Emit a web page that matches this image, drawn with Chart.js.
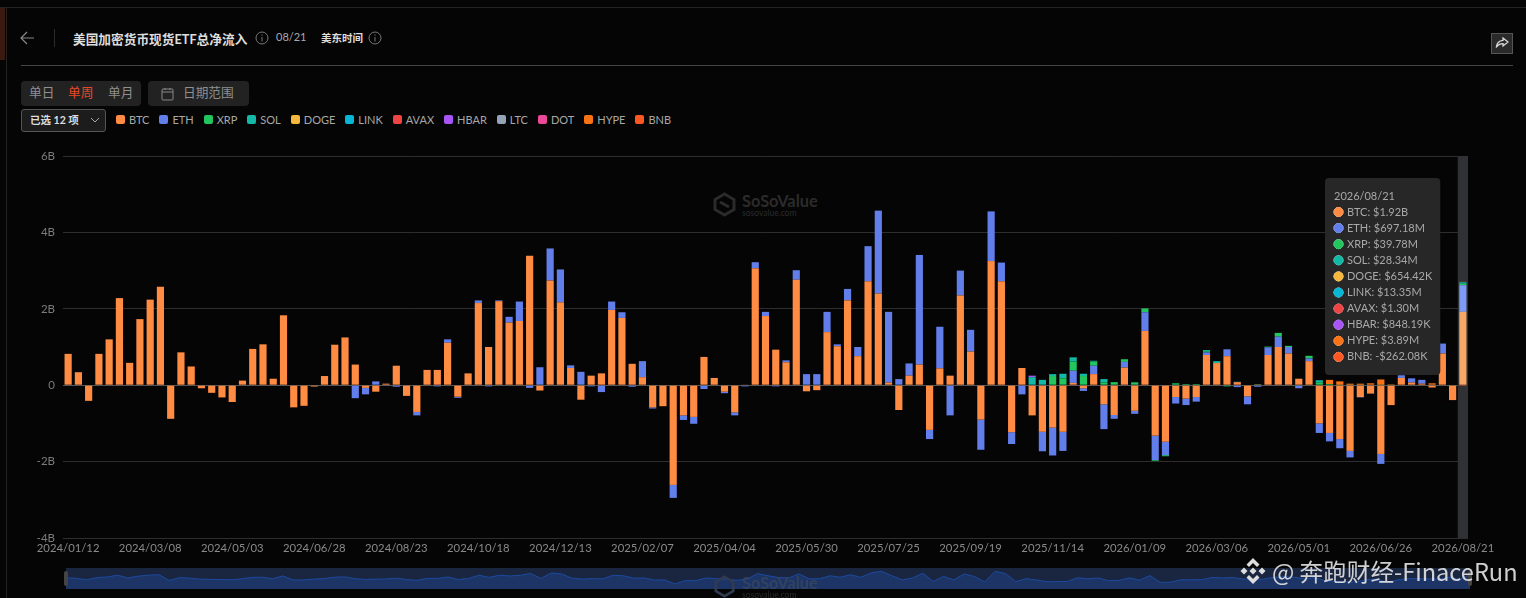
<!DOCTYPE html>
<html>
<head>
<meta charset="utf-8">
<script src="https://cdn.jsdelivr.net/npm/chart.js@4"></script>
<style>
html, body { margin: 0; padding: 0; background: #050505; }
body { position: relative; width: 1526px; height: 598px; overflow: hidden; color: #999; font-family: Lato, "Noto Sans CJK SC", sans-serif; }
.abs { position: absolute; white-space: nowrap; }
canvas { position: absolute; left: 0; top: 0; }
#legend { left: 116px; top: 111px; display: flex; align-items: center; height: 16px; font-size: 11px; color: #a8a8a8; }
#legend span.item { display: flex; align-items: center; margin-right: 10px; }
#legend i { display: block; width: 9px; height: 9px; border-radius: 2px; margin-right: 4px; }
.btn { background: #222; border-radius: 4px; height: 25px; line-height: 23px; font-size: 12.7px; color: #8f8f8f; }
.mark { color: #2b2b2b; font-weight: 700; }
</style>
</head>
<body>
<!-- frame -->
<div class="abs" style="left:0;top:7px;width:1526px;height:1px;background:#222"></div>
<div class="abs" style="left:6px;top:8px;width:1px;height:590px;background:#222"></div>
<div class="abs" style="left:0;top:8px;width:5px;height:52px;background:#3a1a10"></div>
<div class="abs" style="left:21px;top:65px;width:1492px;height:1px;background:#444"></div>
<div class="abs" style="left:54px;top:29px;width:1px;height:18px;background:#2c2c2c"></div>

<!-- header -->
<svg class="abs" style="left:20px;top:31px" width="15" height="14" viewBox="0 0 15 14" fill="none" stroke="#888" stroke-width="1.2"><path d="M14 7H1M7 1L1 7l6 6"/></svg>
<div class="abs" style="left:73px;top:29px;font-size:12.7px;font-weight:700;color:#ddd">美国加密货币现货ETF总净流入</div>
<svg class="abs" style="left:255px;top:31px" width="14" height="14" viewBox="0 0 14 14" fill="none" stroke="#777"><circle cx="7" cy="7" r="6"/><path d="M7 6v4.5M7 3.5v1.2"/></svg>
<div class="abs" style="left:276px;top:30px;font-size:11px;color:#aaa">08/21</div>
<div class="abs" style="left:321px;top:30px;font-size:10.5px;font-weight:700;color:#ddd">美东时间</div>
<svg class="abs" style="left:368px;top:31px" width="14" height="14" viewBox="0 0 14 14" fill="none" stroke="#777"><circle cx="7" cy="7" r="6"/><path d="M7 6v4.5M7 3.5v1.2"/></svg>
<div class="abs" style="left:1491px;top:33px;width:20px;height:19px;background:#2a2a2a;border:1px solid #555"></div>
<svg class="abs" style="left:1495px;top:36px" width="14" height="14" viewBox="0 0 14 14" fill="none" stroke="#ddd" stroke-width="1.2"><path d="M8 2l5 4-5 4V7.6C5 7.6 3 8.6 1.2 11.5 1.6 7.5 4 4.8 8 4.4z"/></svg>

<!-- period buttons -->
<div class="abs btn" style="left:21px;top:81px;width:120px">
  <span class="abs" style="left:8px">单日</span><span class="abs" style="left:47px;color:#e5492a">单周</span><span class="abs" style="left:87px">单月</span>
</div>
<div class="abs btn" style="left:148px;top:81px;width:101px">
  <svg class="abs" style="left:13px;top:6px" width="13" height="14" viewBox="0 0 13 14" fill="none" stroke="#888"><rect x="1" y="2" width="11" height="11" rx="1"/><path d="M1 5h11M4 1v2M9 1v2"/></svg>
  <span class="abs" style="left:35px">日期范围</span>
</div>
<div class="abs" style="left:21px;top:109px;width:83px;height:21px;background:#1c1c1c;border:1px solid #555;border-radius:3px;font-size:10.5px;font-weight:700;color:#ddd;line-height:21px">
  <span class="abs" style="left:8px">已选 12 项</span>
  <svg class="abs" style="left:68px;top:7px" width="10" height="7" viewBox="0 0 10 7" fill="none" stroke="#aaa"><path d="M1 1l4 4 4-4"/></svg>
</div>
<div id="legend" class="abs"></div>

<!-- watermark behind the bars -->
<svg class="abs" style="left:713px;top:192px" width="23" height="25" viewBox="0 0 23 25" fill="none" stroke="#2b2b2b" stroke-width="3"><path d="M11.5 2l9.5 5.5v10L11.5 23 2 17.500v-10zM7 10l9 5"/></svg>
<div class="abs mark" style="left:742px;top:191px;font-size:16.4px">SoSoValue</div>
<div class="abs mark" style="left:742px;top:208px;font-size:8.5px;font-weight:400">sosovalue.com</div>

<canvas id="main" width="1526" height="598"></canvas>

<!-- navigator -->
<div class="abs" style="left:66px;top:568px;width:1404px;height:21px;background:#1a2540"></div>
<canvas id="nav" width="1404" height="21" style="left:66px;top:568px"></canvas>
<div class="abs" style="left:64px;top:571px;width:4px;height:15px;background:#444;border-radius:2px"></div>
<div class="abs" style="left:1468px;top:571px;width:4px;height:15px;background:#444;border-radius:2px"></div>
<svg class="abs" style="left:714px;top:575px" width="21" height="23" viewBox="0 0 23 25" fill="none" stroke="#303a50" stroke-width="3"><path d="M11.5 2l9.500 5.500v10L11.500 23 2 17.500v-10z"/></svg>
<div class="abs" style="left:742px;top:573px;font-size:16.4px;font-weight:700;color:#33425f">SoSoValue</div>
<div class="abs" style="left:742px;top:590px;font-size:8.5px;color:#2b2b2b">sosovalue.com</div>

<!-- overlay credit -->
<svg class="abs" style="left:1239px;top:557px" width="28" height="28" viewBox="0 0 28 28" fill="#ddd">
  <path d="M14 1l6.500 6.500-2.500 2.500-4-4-4 4-2.500-2.500zM14 27l6.500-6.500-2.500-2.500-4 4-4-4-2.500 2.500zM5 10.500L8.500 14 5 17.500 1.500 14zM23 10.500l3.500 3.500-3.500 3.500-3.500-3.500zM14 10.500l3.500 3.500-3.500 3.500-3.500-3.500z"/>
</svg>
<div class="abs" style="left:1272px;top:555px;font-size:23.6px;color:rgba(235,235,235,.88);font-family:'Noto Sans CJK SC',sans-serif;line-height:32px">@ 奔跑财经-FinaceRun</div>

<script>
// weekly net flow per asset, in billions of USD
const tickLabels = ["2024/01/12","2024/03/08","2024/05/03","2024/06/28","2024/08/23","2024/10/18","2024/12/13","2025/02/07","2025/04/04","2025/05/30","2025/07/25","2025/09/19","2025/11/14","2026/01/09","2026/03/06","2026/05/01","2026/06/26","2026/08/21"];

const btc = [.82,.34,-.41,.82,1.2,2.28,.585,1.73,2.24,2.58, -.88,.86,.49,-.08,-.2,-.32,-.44,.12,.95,1.07, .17,1.83,-.58,-.54,-.035,.24,1.06,1.25,.54,-.07, -.17,.04,.51,-.28,-.7,.4,.4,1.11,-.3,.31, 2.15,1,2.2,1.64,1.68,3.39,-.14,2.74,2.17,.45, -.38,.25,.31,1.97,1.76,.56,.21,-.58,-.55,-2.61, -.79,-.83,.74,.19,-.17,-.71,.01,3.06,1.81,.93, .6,2.76,-.16,-.13,1.39,1.02,2.22,.76,2.72,2.4, .07,-.65,.25,.54,-1.17,.44,.25,2.35,.88,-.9, 3.25,2.72,-1.23,.45,-.79,-1.22,-1.11,-1.22,.06,-.08, .29,-.5,-.78,.46,-.67,1.42,-1.32,-1.48,-.31,-.35, -.31,.79,.58,.76,.08,-.29,.02,.79,1,.83, .17,.63,-1,-1.25,-1.41,-1.72,-.31,-.22,-1.8,-.52, .19,.07,.04,-.06,.83,-.39,1.92];
const eth = [0,0,0,0,0,0,0,0,0,0, 0,0,0,0,0,0,0,0,0,0, 0,0,0,0,0,0,0,0,-.34,-.17, .1,-.01,-.04,0,-.09,0,-.03,.09,-.03,0, .07,-.03,.02,.15,.51,-.07,.47,.84,.86,.07, .35,-.03,-.18,.22,.15,-.04,.42,-.03,0,-.34, -.12,-.18,-.1,0,-.04,-.08,-.03,.16,.11,-.03, .05,.25,.29,.29,.53,.05,.3,.24,.92,2.17, 1.85,.16,.32,2.87,-.24,1.09,-.79,.65,.57,-.79, 1.3,.49,-.31,-.24,0,-.51,-.73,-.5,.32,-.07, .22,-.65,-.1,.15,-.08,.49,-.64,-.35,-.17,-.17, -.12,.07,0,.18,-.05,-.21,-.04,.2,.27,.17, -.08,.07,-.25,-.22,-.24,-.17,-.01,0,-.26,0, .07,.11,.1,0,.26,0,.69718];
const xrp = [0,0,0,0,0,0,0,0,0,0, 0,0,0,0,0,0,0,0,0,0, 0,0,0,0,0,0,0,0,0,0, 0,0,0,0,0,0,0,0,0,0, 0,0,0,0,0,0,0,0,0,0, 0,0,0,0,0,0,0,0,0,0, 0,0,0,0,0,0,0,0,0,0, 0,0,0,0,0,0,0,0,0,0, 0,0,0,0,0,0,0,0,0,0, 0,0,0,0,0,0,.24,.18,.24,.24, .11,.07,.08,.07,.07,.1,-.02,-.03,.05,.03, .03,.03,0,-.03,0,0,.01,.02,.1,.03, 0,.07,.07,.03,.01,.01,.01,0,.01,.01, 0,0,0,0,0,0,.03978];
const sol = [0,0,0,0,0,0,0,0,0,0, 0,0,0,0,0,0,0,0,0,0, 0,0,0,0,0,0,0,0,0,0, 0,0,0,0,0,0,0,0,0,0, 0,0,0,0,0,0,0,0,0,0, 0,0,0,0,0,0,0,0,0,0, 0,0,0,0,0,0,0,0,0,0, 0,0,0,0,0,0,0,0,0,0, 0,0,0,0,0,0,0,0,0,0, 0,0,0,0,.21,.14,.05,.12,.11,.06, .02,.09,0,0,.01,0,0,0,0,0, 0,.03,.05,0,.01,0,0,0,0,0, 0,0,.06,0,0,0,0,0,0,0, 0,0,0,0,0,0,.02834];
const doge = [0,0,0,0,0,0,0,0,0,0, 0,0,0,0,0,0,0,0,0,0, 0,0,0,0,0,0,0,0,0,0, 0,0,0,0,0,0,0,0,0,0, 0,0,0,0,0,0,0,0,0,0, 0,0,0,0,0,0,0,0,0,0, 0,0,0,0,0,0,0,0,0,0, 0,0,0,0,0,0,0,0,0,0, 0,0,0,0,0,0,0,0,0,0, 0,0,0,0,0,0,0,0,0,0, 0,0,0,0,0,0,0,0,0,0, 0,0,0,0,0,0,0,0,0,0, 0,0,0,0,0,0,0,0,0,0, 0,0,0,0,0,0,.00065442];
const link = [0,0,0,0,0,0,0,0,0,0, 0,0,0,0,0,0,0,0,0,0, 0,0,0,0,0,0,0,0,0,0, 0,0,0,0,0,0,0,0,0,0, 0,0,0,0,0,0,0,0,0,0, 0,0,0,0,0,0,0,0,0,0, 0,0,0,0,0,0,0,0,0,0, 0,0,0,0,0,0,0,0,0,0, 0,0,0,0,0,0,0,0,0,0, 0,0,0,0,0,0,0,0,0,0, 0,0,0,0,0,0,0,0,0,0, 0,0,0,0,0,0,0,0,0,0, 0,0,0,0,0,0,0,0,0,0, 0,0,0,0,0,0,.01335];
const avax = [0,0,0,0,0,0,0,0,0,0, 0,0,0,0,0,0,0,0,0,0, 0,0,0,0,0,0,0,0,0,0, 0,0,0,0,0,0,0,0,0,0, 0,0,0,0,0,0,0,0,0,0, 0,0,0,0,0,0,0,0,0,0, 0,0,0,0,0,0,0,0,0,0, 0,0,0,0,0,0,0,0,0,0, 0,0,0,0,0,0,0,0,0,0, 0,0,0,0,0,0,0,0,0,0, 0,0,0,0,0,0,0,0,0,0, 0,0,0,0,0,0,0,0,0,0, 0,0,0,0,0,0,0,0,0,0, 0,0,0,0,0,0,.0013];
const hbar = [0,0,0,0,0,0,0,0,0,0, 0,0,0,0,0,0,0,0,0,0, 0,0,0,0,0,0,0,0,0,0, 0,0,0,0,0,0,0,0,0,0, 0,0,0,0,0,0,0,0,0,0, 0,0,0,0,0,0,0,0,0,0, 0,0,0,0,0,0,0,0,0,0, 0,0,0,0,0,0,0,0,0,0, 0,0,0,0,0,0,0,0,0,0, 0,0,0,0,.04,0,0,0,0,0, 0,0,0,0,0,0,0,0,0,0, 0,0,0,0,0,0,0,0,0,0, 0,0,0,0,0,0,0,0,0,0, 0,0,0,0,0,0,.00084819];
const ltc = [0,0,0,0,0,0,0,0,0,0, 0,0,0,0,0,0,0,0,0,0, 0,0,0,0,0,0,0,0,0,0, 0,0,0,0,0,0,0,0,0,0, 0,0,0,0,0,0,0,0,0,0, 0,0,0,0,0,0,0,0,0,0, 0,0,0,0,0,0,0,0,0,0, 0,0,0,0,0,0,0,0,0,0, 0,0,0,0,0,0,0,0,0,0, 0,0,0,0,0,0,0,0,0,0, 0,0,0,0,0,0,0,0,0,0, 0,0,0,0,0,0,0,0,0,0, 0,0,0,0,0,0,0,0,0,0, 0,0,0,0,0,0,0];
const dot = [0,0,0,0,0,0,0,0,0,0, 0,0,0,0,0,0,0,0,0,0, 0,0,0,0,0,0,0,0,0,0, 0,0,0,0,0,0,0,0,0,0, 0,0,0,0,0,0,0,0,0,0, 0,0,0,0,0,0,0,0,0,0, 0,0,0,0,0,0,0,0,0,0, 0,0,0,0,0,0,0,0,0,0, 0,0,0,0,0,0,0,0,0,0, 0,0,0,0,0,0,0,0,0,0, 0,0,0,0,0,0,0,0,0,0, 0,0,0,0,0,0,0,0,0,0, 0,0,0,0,0,0,0,0,0,0, 0,0,0,0,0,0,0];
const hype = [0,0,0,0,0,0,0,0,0,0, 0,0,0,0,0,0,0,0,0,0, 0,0,0,0,0,0,0,0,0,0, 0,0,0,0,0,0,0,0,0,0, 0,0,0,0,0,0,0,0,0,0, 0,0,0,0,0,0,0,0,0,0, 0,0,0,0,0,0,0,0,0,0, 0,0,0,0,0,0,0,0,0,0, 0,0,0,0,0,0,0,0,0,0, 0,0,0,0,0,0,0,0,0,0, 0,0,0,0,0,0,0,0,0,0, 0,0,0,0,0,0,0,0,0,0, 0,0,0,.11,.09,.03,.03,.05,.14,.01, 0,0,0,.05,0,0,.00389];
const bnb = [0,0,0,0,0,0,0,0,0,0, 0,0,0,0,0,0,0,0,0,0, 0,0,0,0,0,0,0,0,0,0, 0,0,0,0,0,0,0,0,0,0, 0,0,0,0,0,0,0,0,0,0, 0,0,0,0,0,0,0,0,0,0, 0,0,0,0,0,0,0,0,0,0, 0,0,0,0,0,0,0,0,0,0, 0,0,0,0,0,0,0,0,0,0, 0,0,0,0,0,0,0,0,0,0, 0,0,0,0,0,0,0,0,0,0, 0,0,0,0,0,0,0,0,0,0, 0,0,0,0,0,0,0,0,0,0, 0,0,0,0,0,0,-.00026208];

const names = ["BTC","ETH","XRP","SOL","DOGE","LINK","AVAX","HBAR","LTC","DOT","HYPE","BNB"];
const colors = ["#FF8C42","#627EEA","#22C55E","#14B8A6","#F5B83D","#06B6D4","#EF4444","#A855F7","#94A3B8","#EC4899","#F97316","#FF5722"];
const hoverColors = ["#F4A766","#7E9BF5","#22C55E","#14B8A6","#F5B83D","#06B6D4","#EF4444","#A855F7","#94A3B8","#EC4899","#F97316","#FF5722"];
const series = [btc, eth, xrp, sol, doge, link, avax, hbar, ltc, dot, hype, bnb];

// one bar per week, friday to friday
const weeks = [];
for (let d = Date.UTC(2024, 0, 12); weeks.length < btc.length; d += 7 * 864e5) {
    weeks.push(new Date(d).toISOString().slice(0, 10).replace(/-/g, "/"));
}

// html legend
document.getElementById("legend").innerHTML = names.map((n, i) =>
    '<span class="item"><i style="background:' + colors[i] + '"></i>' + n + "</span>"
).join("");

// $1.92B, $697.18M, -$262.08K
function money(v) {
    const a = Math.abs(v), s = v < 0 ? "-$" : "$";
    if (a >= 1) return s + a.toFixed(2) + "B";
    if (a >= 0.001) return s + (a * 1e3).toFixed(2) + "M";
    return s + (a * 1e6).toFixed(2) + "K";
}

// grey band behind the hovered week
const hoverBand = {
    id: "hoverBand",
    beforeDatasetsDraw(chart) {
        const x = chart.scales.x, y = chart.scales.y;
        const c = x.getPixelForValue(weeks.length - 1), w = x.width / weeks.length;
        chart.ctx.fillStyle = "#303135";
        chart.ctx.fillRect(c - w / 2, y.top, w, y.bottom - y.top);
    }
};

Chart.Tooltip.positioners.fixedBox = function (items) {
    if (!items.length) return false;
    const x = this.chart.scales.x, y = this.chart.scales.y;
    return { x: x.right - 139, y: y.top + 22 };
};

const chart = new Chart(document.getElementById("main"), {
    type: "bar",
    data: {
        labels: weeks,
        datasets: names.map((n, i) => ({
            label: n,
            data: series[i],
            backgroundColor: colors[i],
            hoverBackgroundColor: hoverColors[i],
            barPercentage: 0.7,
            categoryPercentage: 1
        }))
    },
    options: {
        responsive: false,
        animation: false,
        events: [],
        devicePixelRatio: 1,
        layout: { padding: { left: 0, right: 58, top: 156, bottom: 38 } },
        font: { family: "Lato" },
        scales: {
            x: {
                stacked: true,
                grid: { display: false, drawTicks: false },
                border: { display: false },
                afterFit(s) { s.height = 22; },
                ticks: {
                    autoSkip: false,
                    maxRotation: 0,
                    padding: 4,
                    color: "#8a8a8a",
                    font: { family: "Lato", size: 11.3 },
                    callback(v, i) { return tickLabels.includes(weeks[i]) ? weeks[i] : null; }
                }
            },
            y: {
                stacked: true,
                min: -4,
                max: 6,
                afterFit(s) { s.width = 63; },
                grid: {
                    drawTicks: false,
                    color: c => c.tick.value === 0 ? "#555" : "#2e2e2e"
                },
                border: { display: false },
                ticks: {
                    stepSize: 2,
                    padding: 8,
                    color: "#7c7c7c",
                    font: { family: "Lato", size: 11.5 },
                    callback: v => v === 0 ? "0" : v + "B"
                }
            }
        },
        plugins: {
            legend: { display: false },
            tooltip: {
                mode: "index",
                intersect: false,
                position: "fixedBox",
                xAlign: "left",
                yAlign: "top",
                caretSize: 0,
                caretPadding: 0,
                cornerRadius: 4,
                backgroundColor: "#272727",
                padding: { left: 9, right: 8, top: 11.4, bottom: 11.4 },
                titleColor: "#a8a8a8",
                bodyColor: "#a8a8a8",
                titleFont: { family: "Lato", size: 11, weight: "normal" },
                bodyFont: { family: "Lato", size: 11 },
                titleMarginBottom: 2.8,
                bodySpacing: 2.9,
                usePointStyle: true,
                boxWidth: 9,
                boxHeight: 9,
                boxPadding: 2,
                filter: item => item.dataset.label !== "LTC" && item.dataset.label !== "DOT",
                callbacks: {
                    label: c => c.dataset.label + ": " + money(c.parsed.y),
                    labelColor: c => ({ borderColor: colors[c.datasetIndex], backgroundColor: colors[c.datasetIndex] }),
                    labelPointStyle: () => ({ pointStyle: "circle", rotation: 0 })
                }
            }
        }
    },
    plugins: [hoverBand]
});

// the picture shows the last week hovered
const active = names.map((n, i) => ({ datasetIndex: i, index: weeks.length - 1 }));
chart.setActiveElements(active);
chart.tooltip.setActiveElements(active, { x: 0, y: 0 });
chart.update("none");

// navigator strip under the chart: total flow per week
const totals = weeks.map((w, i) => series.reduce((sum, s) => sum + s[i], 0));
new Chart(document.getElementById("nav"), {
    type: "line",
    data: {
        labels: weeks,
        datasets: [{
            data: totals,
            borderColor: "#1d4a9e",
            borderWidth: 1,
            backgroundColor: "#1c3566",
            pointRadius: 0,
            tension: 0,
            fill: "start"
        }]
    },
    options: {
        responsive: false,
        animation: false,
        events: [],
        devicePixelRatio: 1,
        layout: { padding: 0 },
        scales: {
            x: { display: false, offset: false },
            y: { display: false, min: -5.9, max: 6.5 }
        },
        plugins: { legend: { display: false }, tooltip: { enabled: false } }
    }
});
</script>
</body>
</html>
